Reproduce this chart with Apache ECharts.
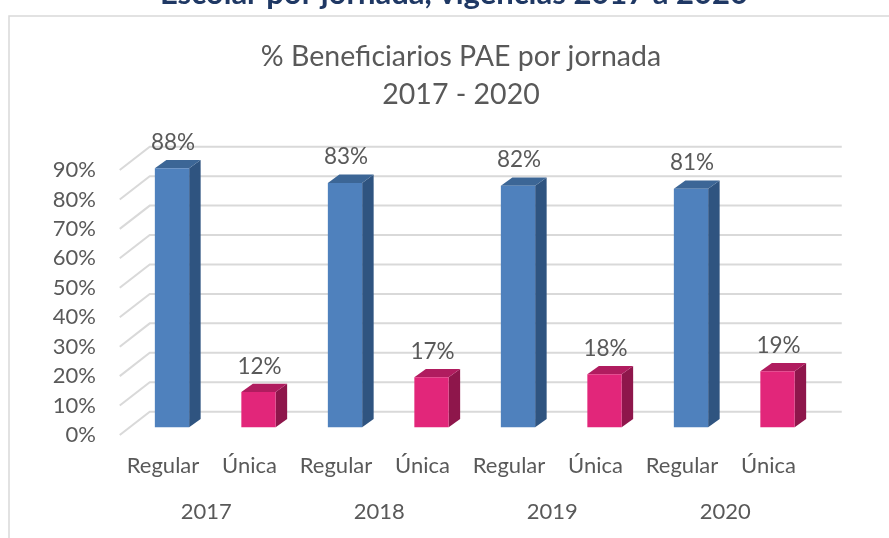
<!DOCTYPE html>
<html>
<head>
<meta charset="utf-8">
<script src="https://cdn.jsdelivr.net/npm/echarts@6/dist/echarts.min.js"></script>
<style>
html,body{margin:0;padding:0;background:#fff;}
#chart{width:889px;height:538px;}
</style>
</head>
<body>
<div id="chart"></div>
<script>
// ---- data ----
const years = ['2017', '2018', '2019', '2020'];
const jornadas = ['Regular', 'Única'];
const regular = [88, 83, 82, 81];
const unica = [12, 17, 18, 19];
const yTicks = [0, 10, 20, 30, 40, 50, 60, 70, 80, 90];
const titleText = '% Beneficiarios PAE por jornada\n2017 - 2020';
const pageTitle = 'Escolar por jornada, vigencias 2017 a 2020';

// ---- styling constants ----
const FONT = 'Lato';
const TXT = '#595959';
const FRONT = { dx: -9, dy: 7.7 };   // front edge of floor relative to bar plane
const BACK = { dx: 21, dy: -15.6 };  // back wall relative to bar plane
const BAR = { w: 34.3, dx: 11.5, dy: -8.3 };

const categories = [];
years.forEach(() => jornadas.forEach(j => categories.push(j)));

const colors = {
  Regular: { front: '#4f81bd', side: '#2f5480', top: '#3c6696' },
  'Única': { front: '#e2267a', side: '#8e164b', top: '#b01c5f' }
};

function barRender(col) {
  return function (params, api) {
    const idx = api.value(0), val = api.value(1);
    const t = api.coord([idx, val]);
    const b = api.coord([idx, 0]);
    const x0 = t[0] - BAR.w / 2, x1 = x0 + BAR.w;
    return {
      type: 'group',
      children: [
        { type: 'polygon', shape: { points: [[x1, t[1]], [x1 + BAR.dx, t[1] + BAR.dy], [x1 + BAR.dx, b[1] + BAR.dy], [x1, b[1]]] }, style: { fill: col.side } },
        { type: 'polygon', shape: { points: [[x0, t[1]], [x0 + BAR.dx, t[1] + BAR.dy], [x1 + BAR.dx, t[1] + BAR.dy], [x1, t[1]]] }, style: { fill: col.top } },
        { type: 'rect', shape: { x: x0, y: t[1], width: BAR.w, height: b[1] - t[1] }, style: { fill: col.front } },
        { type: 'text', x: t[0] + 1, y: t[1] - 25.7, style: { text: val + '%', fill: TXT, font: '22.5px ' + FONT, align: 'center', verticalAlign: 'middle' } }
      ]
    };
  };
}

function gridRender(params, api) {
  const cs = params.coordSys;
  const y = api.coord([0, api.value(1)])[1];
  return {
    type: 'polyline',
    shape: { points: [[cs.x + FRONT.dx, y + FRONT.dy], [cs.x + BACK.dx, y + BACK.dy], [cs.x + cs.width + BACK.dx, y + BACK.dy]] },
    style: { stroke: '#d9d9d9', lineWidth: 2, fill: null }
  };
}

const chart = echarts.init(document.getElementById('chart'));
const G0 = { left: 128.75, right: 68.25, top: 162.3, bottom: 110.7 };
const G1 = { left: G0.left + FRONT.dx, right: G0.right - FRONT.dx, top: G0.top + FRONT.dy, bottom: G0.bottom - FRONT.dy };

const labelStyle = { color: TXT, fontFamily: FONT, fontSize: 22 };

chart.setOption({
  backgroundColor: '#fff',
  animation: false,
  title: {
    text: titleText,
    left: 456, top: 33,
    textAlign: 'center',
    textStyle: { color: TXT, fontFamily: FONT, fontSize: 28.5, fontWeight: 'normal', lineHeight: 38 }
  },
  graphic: [
    { type: 'rect', z: -10, shape: { x: 9, y: 16, width: 900, height: 600 }, style: { fill: null, stroke: '#d9d9d9', lineWidth: 1.5 } },
    { type: 'text', x: 454, y: -6, style: { text: pageTitle, font: 'bold 31px ' + FONT, fill: '#1f3864', align: 'center', verticalAlign: 'middle' } }
  ],
  grid: [
    Object.assign({}, G0),
    Object.assign({}, G1)
  ],
  xAxis: [
    { gridIndex: 0, type: 'category', data: categories, show: false },
    { gridIndex: 1, type: 'category', data: categories, axisLine: { show: false }, axisTick: { show: false },
      axisLabel: Object.assign({ interval: 0, margin: 19.5 }, labelStyle) },
    { gridIndex: 1, type: 'category', data: years, position: 'bottom', offset: 46, axisLine: { show: false }, axisTick: { show: false },
      axisLabel: Object.assign({ interval: 0, margin: 19.5 }, labelStyle) }
  ],
  yAxis: [
    { gridIndex: 0, type: 'value', min: 0, max: 90, interval: 10, show: false },
    { gridIndex: 1, type: 'value', min: 0, max: 90, interval: 10, splitLine: { show: false }, axisLine: { show: false }, axisTick: { show: false },
      axisLabel: Object.assign({ formatter: '{value}%', margin: 23.75 }, labelStyle) }
  ],
  series: [
    { type: 'custom', name: 'grid', xAxisIndex: 0, yAxisIndex: 0, z: 1, silent: true, clip: false,
      data: yTicks.map(v => [0, v]), renderItem: gridRender },
    { type: 'custom', name: 'Regular', xAxisIndex: 0, yAxisIndex: 0, z: 3, clip: false,
      data: regular.map((v, i) => [i * 2, v]), renderItem: barRender(colors.Regular) },
    { type: 'custom', name: 'Única', xAxisIndex: 0, yAxisIndex: 0, z: 3, clip: false,
      data: unica.map((v, i) => [i * 2 + 1, v]), renderItem: barRender(colors['Única']) }
  ]
});
</script>
</body>
</html>
